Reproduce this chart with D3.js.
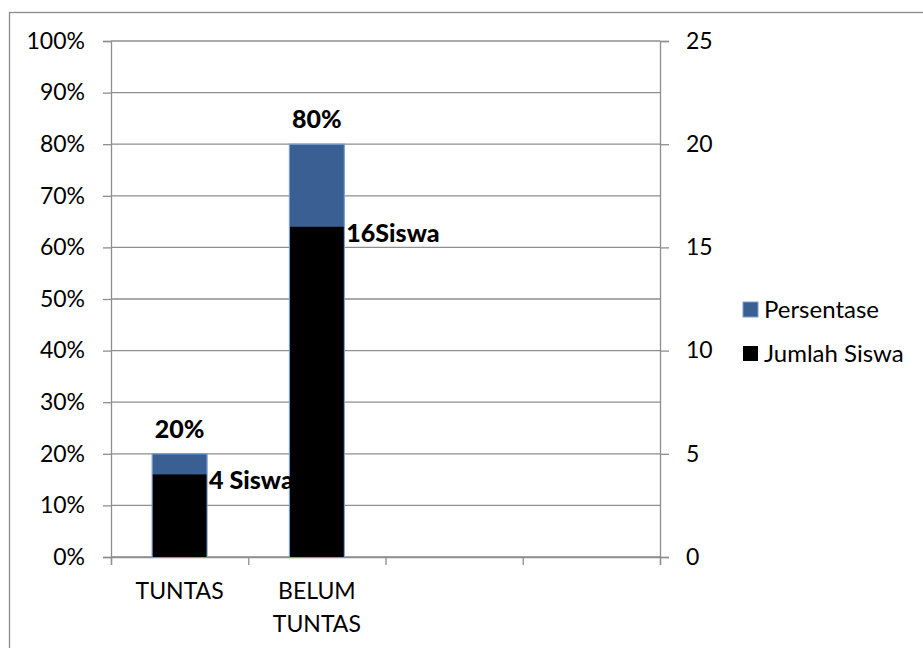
<!DOCTYPE html>
<html>
<head>
<meta charset="utf-8">
<script src="https://cdn.jsdelivr.net/npm/d3@7"></script>
<style>
  body { margin: 0; background: #fff; }
  text { font-family: Lato, "Open Sans", sans-serif; fill: #000; }
</style>
</head>
<body>
<div id="chart"></div>
<script>
// chart data
var categories = ["TUNTAS", "BELUM TUNTAS", "", ""];
var persentase = [20, 80, null, null];        // left axis, %
var jumlahSiswa = [4, 16, null, null];        // right axis, students
var persenLabels = ["20%", "80%"];
var siswaLabels = ["4 Siswa", "16Siswa"];
var leftTicks = [0, 10, 20, 30, 40, 50, 60, 70, 80, 90, 100];
var rightTicks = [0, 5, 10, 15, 20, 25];
var legendNames = ["Persentase", "Jumlah Siswa"];

var svgWidth = 923, svgHeight = 648;
var margin = { top: 41, right: 263, bottom: 91, left: 111 };
var width = svgWidth - margin.left - margin.right;
var height = svgHeight - margin.top - margin.bottom;

var svg = d3.select("#chart").append("svg")
  .attr("width", svgWidth)
  .attr("height", svgHeight);

// outer chart border
svg.append("rect")
  .attr("x", 9.5).attr("y", 12.5)
  .attr("width", 1000).attr("height", 1000)
  .attr("fill", "none")
  .attr("stroke", "#8c8c8c")
  .attr("stroke-width", 1.3);

var chartGroup = svg.append("g")
  .attr("transform", `translate(${margin.left}, ${margin.top})`);

var x = d3.scaleBand()
  .domain(d3.range(categories.length))
  .range([0, width])
  .paddingInner(0.6)
  .paddingOuter(0.3);

var yLeft = d3.scaleLinear().domain([0, 100]).range([height, 0]);
var yRight = d3.scaleLinear().domain([0, 25]).range([height, 0]);

var gray = "#8e8e8e";

// gridlines
chartGroup.append("g")
  .selectAll("line")
  .data(leftTicks)
  .enter()
  .append("line")
  .attr("x1", 0).attr("x2", width)
  .attr("y1", d => yLeft(d)).attr("y2", d => yLeft(d))
  .attr("stroke", gray)
  .attr("stroke-width", 1.3);

// left axis
var leftAxis = d3.axisLeft(yLeft)
  .tickValues(leftTicks)
  .tickSize(8)
  .tickPadding(18)
  .tickFormat(d => d + "%");
var gl = chartGroup.append("g").call(leftAxis);

// right axis
var rightAxis = d3.axisRight(yRight)
  .tickValues(rightTicks)
  .tickSize(9)
  .tickPadding(17);
var gr = chartGroup.append("g")
  .attr("transform", `translate(${width}, 0)`)
  .call(rightAxis);

// bottom axis with ticks between categories
var xEdge = d3.scaleLinear().domain([0, categories.length]).range([0, width]);
var bottomAxis = d3.axisBottom(xEdge)
  .tickValues(d3.range(categories.length + 1))
  .tickSize(8)
  .tickFormat("");
var gb = chartGroup.append("g")
  .attr("transform", `translate(0, ${height})`)
  .call(bottomAxis);

[gl, gr, gb].forEach(function(g) {
  g.selectAll("path.domain").attr("stroke", gray).attr("stroke-width", 1.3);
  g.selectAll(".tick line").attr("stroke", gray).attr("stroke-width", 1.3);
  g.selectAll(".tick text")
    .style("font-size", "23px")
    .attr("fill", "#000");
});

// category labels (wrapped)
chartGroup.append("g")
  .selectAll("text")
  .data(categories)
  .enter()
  .append("text")
  .attr("text-anchor", "middle")
  .style("font-size", "23px")
  .attr("transform", (d, i) => `translate(${xEdge(i + 0.5)}, ${height + 42})`)
  .each(function(d) {
    var words = d.split(" ");
    var t = d3.select(this);
    words.forEach(function(w, j) {
      t.append("tspan").attr("x", 0).attr("dy", j === 0 ? 0 : 33).text(w);
    });
  });

// persentase bars (behind)
chartGroup.append("g")
  .selectAll("rect")
  .data(persentase)
  .enter()
  .filter(d => d !== null)
  .append("rect")
  .attr("x", (d, i) => x(i))
  .attr("width", x.bandwidth())
  .attr("y", d => yLeft(d))
  .attr("height", d => height - yLeft(d))
  .attr("fill", "#3a6093")
  .attr("stroke", "#7aa0cf")
  .attr("stroke-width", 1.2);

// jumlah siswa bars (front)
chartGroup.append("g")
  .selectAll("rect")
  .data(jumlahSiswa)
  .enter()
  .filter(d => d !== null)
  .append("rect")
  .attr("x", (d, i) => x(i) + 0.6)
  .attr("width", x.bandwidth() - 1.2)
  .attr("y", d => yRight(d))
  .attr("height", d => height - yRight(d))
  .attr("fill", "#000");

// percentage labels
chartGroup.append("g")
  .selectAll("text")
  .data(persenLabels)
  .enter()
  .append("text")
  .attr("text-anchor", "middle")
  .attr("x", (d, i) => x(i) + x.bandwidth() / 2)
  .attr("y", (d, i) => yLeft(persentase[i]) - 16)
  .style("font-size", "25px")
  .style("font-weight", "900")
  .text(d => d);

// siswa labels
chartGroup.append("g")
  .selectAll("text")
  .data(siswaLabels)
  .enter()
  .append("text")
  .attr("x", (d, i) => x(i) + x.bandwidth() + 2)
  .attr("y", (d, i) => yRight(jumlahSiswa[i]) + 15)
  .style("font-size", "25px")
  .style("font-weight", "900")
  .text(d => d);

// legend
var legendColors = ["#3a6093", "#000"];
var legend = svg.append("g")
  .attr("transform", "translate(743, 302)");
var items = legend.selectAll("g")
  .data(legendNames)
  .enter()
  .append("g")
  .attr("transform", (d, i) => `translate(0, ${i * 44})`);
items.append("rect")
  .attr("width", 15).attr("height", 15)
  .attr("fill", (d, i) => legendColors[i])
  .attr("stroke", (d, i) => i === 0 ? "#7aa0cf" : "none");
items.append("text")
  .attr("x", 21).attr("y", 7.5)
  .attr("dy", "0.35em")
  .style("font-size", "24px")
  .text(d => d);
</script>
</body>
</html>
